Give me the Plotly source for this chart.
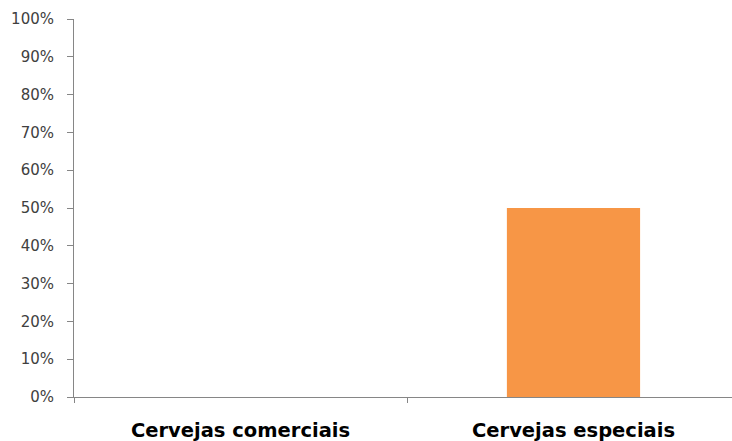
import plotly.graph_objects as go

categories = ["Cervejas comerciais", "Cervejas especiais"]
values = [0.0, 0.50]
y_ticks = [0, 0.1, 0.2, 0.3, 0.4, 0.5, 0.6, 0.7, 0.8, 0.9, 1.0]
y_tick_labels = ["0%", "10%", "20%", "30%", "40%", "50%", "60%", "70%", "80%", "90%", "100%"]

fig = go.Figure(
    go.Bar(
        x=categories,
        y=values,
        marker=dict(color="#F79646", line=dict(width=0)),
        width=0.4,
    )
)

fig.update_layout(
    width=732,
    height=441,
    margin=dict(l=74, r=0, t=19, b=44),
    paper_bgcolor="white",
    plot_bgcolor="white",
    showlegend=False,
)

fig.update_xaxes(
    type="category",
    range=[-0.5, 1.476],
    showline=True,
    linecolor="#868686",
    linewidth=1,
    ticks="outside",
    tickson="boundaries",
    ticklen=5,
    tickcolor="#868686",
    showgrid=False,
    tickfont=dict(family="DejaVu Sans", size=19.5, color="#000000", weight="bold"),
    ticklabelstandoff=16,
)

fig.update_yaxes(
    range=[0, 1],
    tickvals=y_ticks,
    ticktext=y_tick_labels,
    showline=True,
    linecolor="#868686",
    linewidth=1,
    ticks="outside",
    ticklen=6,
    tickcolor="#868686",
    showgrid=False,
    zeroline=False,
    tickfont=dict(family="DejaVu Sans", size=15, color="#404040"),
    ticklabelstandoff=10,
)

fig.write_html("out.html")
